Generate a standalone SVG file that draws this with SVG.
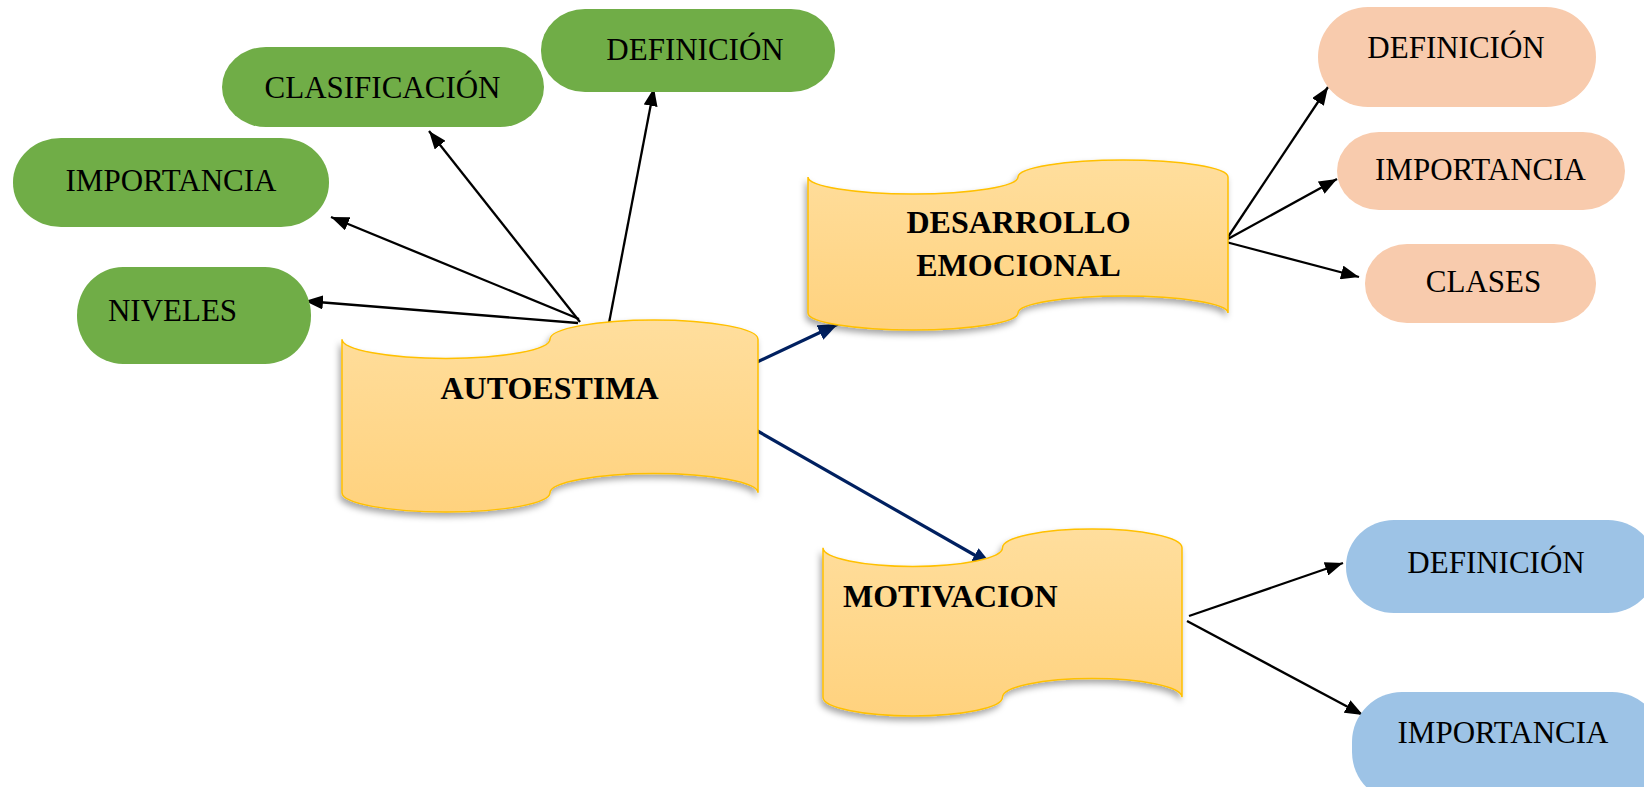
<svg xmlns="http://www.w3.org/2000/svg" width="1644" height="787" viewBox="0 0 1644 787">
<defs>
<linearGradient id="yg" x1="0" y1="0" x2="0" y2="1">
<stop offset="0" stop-color="#FFDE9D"/>
<stop offset="1" stop-color="#FFD27E"/>
</linearGradient>
<filter id="sh" x="-10%" y="-10%" width="120%" height="130%">
<feDropShadow dx="-2" dy="4" stdDeviation="3" flood-color="#000" flood-opacity="0.35"/>
</filter>
<marker id="ah" markerWidth="18" markerHeight="14" refX="18" refY="7" orient="auto" markerUnits="userSpaceOnUse">
<path d="M0,0 L18,7 L0,14 Z" fill="#000"/>
</marker>
<marker id="ahn" markerWidth="20" markerHeight="16" refX="20" refY="8" orient="auto" markerUnits="userSpaceOnUse">
<path d="M0,0 L20,8 L0,16 Z" fill="#002060"/>
</marker>
</defs>
<style>
.tape{fill:url(#yg);stroke:#FFC000;stroke-width:1.5;filter:url(#sh)}
.g{fill:#70AD47}
.p{fill:#F8CBAD}
.b{fill:#9DC3E6}
.t{font-family:"Liberation Serif","Times New Roman",serif;font-size:31px;fill:#000}
.tb{font-family:"Liberation Serif","Times New Roman",serif;font-size:32px;font-weight:bold;fill:#000}
.c{stroke:#000;stroke-width:2.3;fill:none;marker-end:url(#ah)}
.cn{stroke:#002060;stroke-width:3.2;fill:none;marker-end:url(#ahn)}
</style>

<g id="connectors">
<line class="c" x1="578" y1="323" x2="305" y2="301"/>
<line class="c" x1="579" y1="319" x2="331" y2="217"/>
<line class="c" x1="580" y1="322" x2="429" y2="131"/>
<line class="c" x1="609" y1="323" x2="654" y2="88"/>
<line class="cn" x1="755" y1="363" x2="838" y2="324"/>
<line class="cn" x1="754" y1="429" x2="992" y2="565"/>
<line class="c" x1="1226" y1="240" x2="1328" y2="87"/>
<line class="c" x1="1226" y1="240" x2="1337" y2="179"/>
<line class="c" x1="1226" y1="242" x2="1359" y2="277"/>
<line class="c" x1="1189" y1="616" x2="1343" y2="563"/>
<line class="c" x1="1187" y1="621" x2="1363" y2="715"/>
</g>

<g id="autoestima">
<path class="tape" transform="translate(342,320)" d="M0,19.2 A104,19.2 0 0 0 208,19.2 A104,19.2 0 0 1 416,19.2 L416,172.8 A104,19.2 0 0 0 208,172.8 A104,19.2 0 0 1 0,172.8 Z"/>
<text class="tb" x="549.5" y="399" text-anchor="middle">AUTOESTIMA</text>
</g>

<g id="desarrollo">
<path class="tape" transform="translate(808,160)" d="M0,17 A105,17 0 0 0 210,17 A105,17 0 0 1 420,17 L420,153 A105,17 0 0 0 210,153 A105,17 0 0 1 0,153 Z"/>
<text class="tb" x="1018.5" y="233" text-anchor="middle">DESARROLLO</text>
<text class="tb" x="1018.5" y="276" text-anchor="middle">EMOCIONAL</text>
</g>

<g id="motivacion">
<path class="tape" transform="translate(823,529)" d="M0,18.7 A89.75,18.7 0 0 0 179.5,18.7 A89.75,18.7 0 0 1 359,18.7 L359,168.3 A89.75,18.7 0 0 0 179.5,168.3 A89.75,18.7 0 0 1 0,168.3 Z"/>
<text class="tb" x="843" y="607">MOTIVACION</text>
</g>

<g id="g-definicion">
<rect class="g" x="541" y="9" width="294" height="83" rx="44" ry="41"/>
<text class="t" x="695" y="60" text-anchor="middle">DEFINICIÓN</text>
</g>
<g id="g-clasificacion">
<rect class="g" x="222" y="47" width="322" height="80" rx="44" ry="40"/>
<text class="t" x="382.5" y="98" text-anchor="middle">CLASIFICACIÓN</text>
</g>
<g id="g-importancia">
<rect class="g" x="13" y="138" width="316" height="89" rx="48" ry="44"/>
<text class="t" x="171" y="191" text-anchor="middle">IMPORTANCIA</text>
</g>
<g id="g-niveles">
<rect class="g" x="77" y="267" width="234" height="97" rx="46" ry="48"/>
<text class="t" x="172.5" y="321" text-anchor="middle">NIVELES</text>
</g>

<g id="p-definicion">
<rect class="p" x="1318" y="7" width="278" height="100" rx="50" ry="50"/>
<text class="t" x="1456" y="58" text-anchor="middle" font-size="29">DEFINICIÓN</text>
</g>
<g id="p-importancia">
<rect class="p" x="1337" y="132" width="288" height="78" rx="42" ry="39"/>
<text class="t" x="1480.5" y="180" text-anchor="middle" font-size="29">IMPORTANCIA</text>
</g>
<g id="p-clases">
<rect class="p" x="1365" y="244" width="231" height="79" rx="42" ry="39"/>
<text class="t" x="1483.5" y="292" text-anchor="middle" font-size="29">CLASES</text>
</g>

<g id="b-definicion">
<rect class="b" x="1346" y="520" width="310" height="93" rx="48" ry="46"/>
<text class="t" x="1496" y="573" text-anchor="middle">DEFINICIÓN</text>
</g>
<g id="b-importancia">
<rect class="b" x="1352" y="692" width="310" height="110" rx="50" ry="50"/>
<text class="t" x="1503" y="743" text-anchor="middle">IMPORTANCIA</text>
</g>
</svg>
